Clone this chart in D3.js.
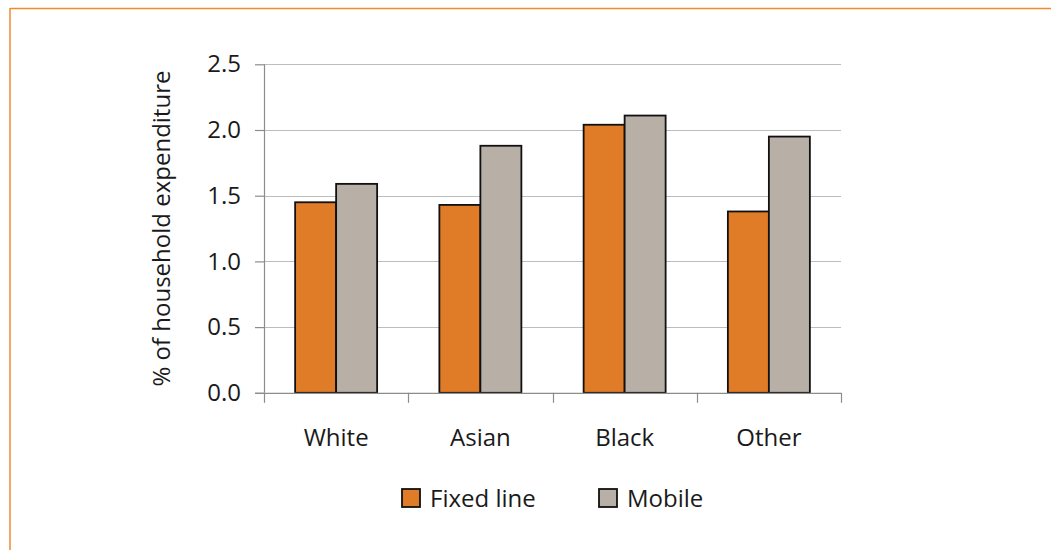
<!DOCTYPE html>
<html>
<head>
<meta charset="utf-8">
<script src="https://cdn.jsdelivr.net/npm/d3@7"></script>
<style>
  html, body { margin: 0; padding: 0; background: #fff; }
  svg { display: block; }
  text { font-family: "Open Sans", "Noto Sans", sans-serif; fill: #1a1a1a; }
</style>
</head>
<body>
<svg id="chart" width="1051" height="550"></svg>
<script>
const categories = ["White", "Asian", "Black", "Other"];
const seriesNames = ["Fixed line", "Mobile"];
const fixedLine = [1.45, 1.43, 2.04, 1.38];
const mobile = [1.59, 1.88, 2.11, 1.95];
const yTicks = [0, 0.5, 1.0, 1.5, 2.0, 2.5];
const yTitle = "% of household expenditure";
const colors = ["#E07B28", "#B8AFA6"];

(function () {
const svg = d3.select("#chart");
const FS = "24px";

// frame border (top and left visible)
svg.append("line").attr("x1", 10).attr("y1", 8.5).attr("x2", 1051).attr("y2", 8.5)
  .attr("stroke", "#EE8A2E").attr("stroke-width", 1.5);
svg.append("line").attr("x1", 10).attr("y1", 8).attr("x2", 10).attr("y2", 550)
  .attr("stroke", "#EE8A2E").attr("stroke-width", 1.5);

const pLeft = 264, pRight = 841, pTop = 64.3, pBottom = 392.8;

const x = d3.scaleBand().domain(categories).range([pLeft, pRight]).paddingInner(0).paddingOuter(0);
const xInner = d3.scaleBand().domain(seriesNames).range([0, 82]);
const y = d3.scaleLinear().domain([0, 2.5]).range([pBottom, pTop]);
const groupOffset = (x.bandwidth() - 82) / 2;

// gridlines
svg.append("g").selectAll("line").data(yTicks.filter(d => d > 0)).join("line")
  .attr("x1", pLeft).attr("x2", pRight)
  .attr("y1", d => Math.round(y(d)) + 0.5).attr("y2", d => Math.round(y(d)) + 0.5)
  .attr("stroke", "#BDBDBD").attr("stroke-width", 1.2);

// y axis
const yAxis = d3.axisLeft(y).tickValues(yTicks).tickFormat(d3.format(".1f")).tickSize(9).tickPadding(14);
const gy = svg.append("g").attr("transform", `translate(${pLeft},0)`).call(yAxis);
gy.select(".domain").attr("stroke", "#8C8C8C").attr("stroke-width", 1.2).attr("d", `M0.5,${pTop}V${pBottom}`);
gy.selectAll(".tick line").attr("stroke", "#8C8C8C").attr("stroke-width", 1.2);
gy.selectAll(".tick text").style("font-size", FS).attr("fill", "#1a1a1a")
  .attr("font-family", "Open Sans, Noto Sans, sans-serif");

// bars
const data = categories.map((c, i) => ({ cat: c, vals: [fixedLine[i], mobile[i]] }));
const groups = svg.append("g").selectAll("g").data(data).join("g")
  .attr("transform", d => `translate(${x(d.cat) + groupOffset},0)`);
groups.selectAll("rect").data(d => d.vals.map((v, j) => ({ v, s: seriesNames[j], j }))).join("rect")
  .attr("x", d => xInner(d.s))
  .attr("width", xInner.bandwidth())
  .attr("y", d => y(d.v))
  .attr("height", d => pBottom - y(d.v))
  .attr("fill", d => colors[d.j])
  .attr("stroke", "#111")
  .attr("stroke-width", 1.8);

// x axis
const xAxis = d3.axisBottom(x).tickSize(0).tickPadding(36);
const gx = svg.append("g").attr("transform", `translate(0,${pBottom})`).call(xAxis);
gx.select(".domain").remove();
gx.selectAll(".tick text").style("font-size", FS).attr("fill", "#1a1a1a")
  .attr("font-family", "Open Sans, Noto Sans, sans-serif");
svg.append("line").attr("x1", pLeft - 9).attr("x2", pRight).attr("y1", pBottom + 0.5).attr("y2", pBottom + 0.5)
  .attr("stroke", "#8C8C8C").attr("stroke-width", 1.2);
const boundaries = categories.map(c => x(c)).concat([x(categories[categories.length - 1]) + x.bandwidth()]);
svg.append("g").selectAll("line").data(boundaries).join("line")
  .attr("x1", d => Math.round(d) + 0.5).attr("x2", d => Math.round(d) + 0.5)
  .attr("y1", pBottom).attr("y2", pBottom + 10)
  .attr("stroke", "#8C8C8C").attr("stroke-width", 1.2);

// y title
svg.append("text")
  .attr("transform", `translate(170,${(pTop + pBottom) / 2}) rotate(-90)`)
  .attr("text-anchor", "middle")
  .style("font-size", FS)
  .text(yTitle);

// legend
const legendX = [402, 599];
const lg = svg.append("g").selectAll("g").data(seriesNames).join("g")
  .attr("transform", (d, i) => `translate(${legendX[i]},489)`);
lg.append("rect").attr("width", 18).attr("height", 18)
  .attr("fill", (d, i) => colors[i]).attr("stroke", "#111").attr("stroke-width", 1.8);
lg.append("text").attr("x", 28).attr("y", 18).style("font-size", FS).text(d => d);
})();
</script>
</body>
</html>
